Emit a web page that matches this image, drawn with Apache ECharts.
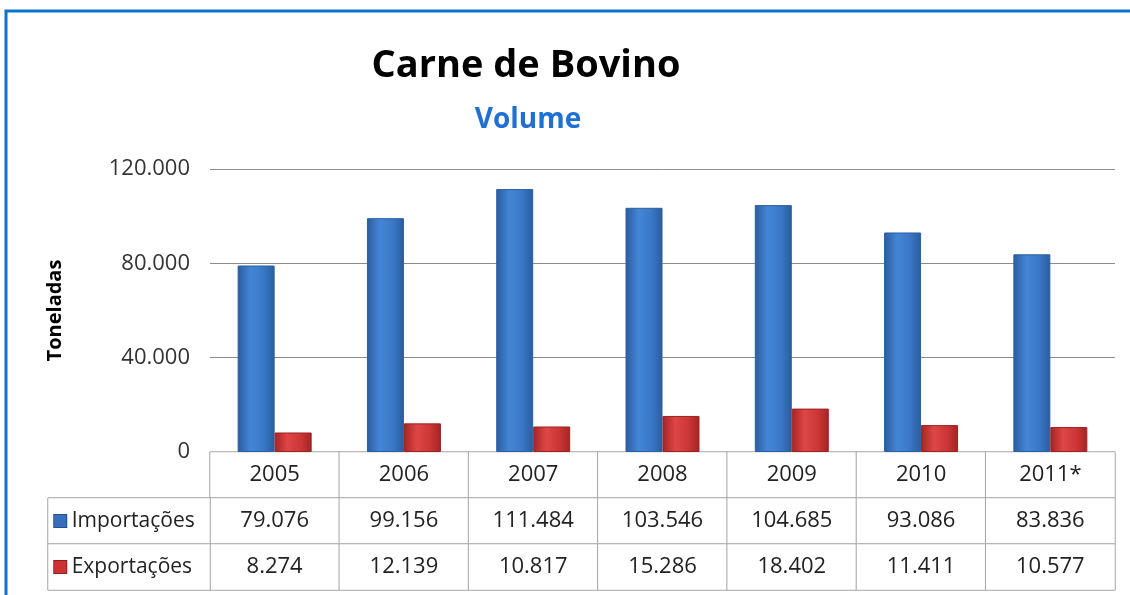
<!DOCTYPE html>
<html>
<head>
<meta charset="utf-8">
<script src="https://cdn.jsdelivr.net/npm/echarts@6/dist/echarts.min.js"></script>
<style>
  html, body { margin: 0; padding: 0; background: #fff; }
  #main { width: 1130px; height: 595px; }
</style>
</head>
<body>
<div id="main"></div>
<script>
// data
var years = ['2005', '2006', '2007', '2008', '2009', '2010', '2011*'];
var importacoes = [79076, 99156, 111484, 103546, 104685, 93086, 83836];
var exportacoes = [8274, 12139, 10817, 15286, 18402, 11411, 10577];
var seriesNames = ['Importações', 'Exportações'];
var yTicks = [0, 40000, 80000, 120000];

var FONT = 'Open Sans';

function fmt(v) {
	var s = String(Math.round(v));
	return s.replace(/\B(?=(\d{3})+(?!\d))/g, '.');
}

// cells of the data table: [col, row, value]
var tableCells = [];
years.forEach(function (y, i) {
	tableCells.push([i, 0, 0]);
	tableCells.push([i, 1, importacoes[i]]);
	tableCells.push([i, 2, exportacoes[i]]);
});

function barGrad(dark, mid, light) {
	return new echarts.graphic.LinearGradient(0, 0, 1, 0, [
		{offset: 0, color: dark},
		{offset: 0.35, color: light},
		{offset: 0.7, color: mid},
		{offset: 1, color: dark}
	]);
}

var myChart = echarts.init(document.getElementById('main'));
var option = {
	animation: false,
	title: [{
		text: 'Carne de Bovino',
		left: 521,
		top: 42,
		textAlign: 'center',
		textStyle: {fontFamily: FONT, fontSize: 38, fontWeight: 'bold', color: '#000'}
	}, {
		text: 'Volume',
		left: 523,
		top: 101,
		textAlign: 'center',
		textStyle: {fontFamily: FONT, fontSize: 28, fontWeight: 'bold', color: '#1f70d2'}
	}],
	graphic: [{
		type: 'polyline',
		shape: {points: [[6, 595], [6, 11], [1130, 11]]},
		style: {stroke: '#0a74cc', lineWidth: 3, fill: null}
	}],
	grid: [
		{left: 210, right: 15, top: 169, height: 283},
		{left: 210, right: 15, top: 452, height: 138},
		{left: 48, width: 162, top: 498, height: 92}
	],
	xAxis: [{
		gridIndex: 0,
		type: 'category',
		data: years,
		axisLine: {show: false},
		axisTick: {show: false},
		axisLabel: {show: false}
	}, {
		gridIndex: 1,
		type: 'category',
		data: years,
		axisLine: {show: false},
		axisTick: {show: false},
		axisLabel: {show: false}
	}, {
		gridIndex: 2,
		type: 'category',
		data: ['legenda'],
		axisLine: {show: false},
		axisTick: {show: false},
		axisLabel: {show: false}
	}],
	yAxis: [{
		gridIndex: 0,
		type: 'value',
		min: yTicks[0],
		max: yTicks[yTicks.length - 1],
		interval: 40000,
		name: 'Toneladas',
		nameLocation: 'middle',
		nameRotate: 90,
		nameGap: 145,
		nameTextStyle: {fontFamily: FONT, fontSize: 20, fontWeight: 'bold', color: '#000'},
		axisLine: {show: false},
		axisTick: {show: false},
		axisLabel: {
			fontFamily: FONT, fontSize: 22, color: '#333', margin: 20,
			formatter: function (v) { return fmt(v); }
		},
		splitLine: {lineStyle: {color: '#8c8c8c', width: 1}}
	}, {
		gridIndex: 1,
		type: 'category',
		inverse: true,
		data: ['Ano'].concat(seriesNames),
		axisLine: {show: false},
		axisTick: {show: false},
		axisLabel: {show: false}
	}, {
		gridIndex: 2,
		type: 'category',
		inverse: true,
		data: seriesNames,
		axisLine: {show: false},
		axisTick: {show: false},
		axisLabel: {show: false}
	}],
	series: [{
		name: seriesNames[0],
		type: 'bar',
		xAxisIndex: 0,
		yAxisIndex: 0,
		data: importacoes,
		barWidth: 37,
		barGap: '0%',
		itemStyle: {
			color: barGrad('#2a5c9e', '#3a78c6', '#4386d6'),
			borderColor: '#2c5f9f',
			borderWidth: 1
		},
		emphasis: {disabled: true}
	}, {
		name: seriesNames[1],
		type: 'bar',
		xAxisIndex: 0,
		yAxisIndex: 0,
		data: exportacoes,
		barWidth: 37,
		barGap: '0%',
		itemStyle: {
			color: barGrad('#a52424', '#cc3636', '#df4646'),
			borderColor: '#9e2222',
			borderWidth: 1
		},
		emphasis: {disabled: true}
	}, {
		type: 'heatmap',
		xAxisIndex: 1,
		yAxisIndex: 1,
		data: tableCells,
		itemStyle: {color: '#fff', borderColor: '#a6a6a6', borderWidth: 1},
		label: {
			show: true,
			fontFamily: FONT,
			fontSize: 22,
			color: '#222',
			formatter: function (p) {
				return p.data[1] === 0 ? years[p.data[0]] : fmt(p.data[2]);
			}
		},
		emphasis: {disabled: true}
	}, {
		type: 'heatmap',
		xAxisIndex: 2,
		yAxisIndex: 2,
		data: [[0, 0, 0], [0, 1, 1]],
		itemStyle: {color: '#fff', borderColor: '#a6a6a6', borderWidth: 1},
		label: {
			show: true,
			position: 'insideLeft',
			distance: 7,
			fontFamily: FONT,
			fontSize: 21,
			color: '#222',
			formatter: function (p) {
				return (p.data[1] === 0 ? '{imp|}' : '{exp|}') + ' ' + seriesNames[p.data[1]];
			},
			rich: {
				imp: {width: 12, height: 12, backgroundColor: '#3670bc', borderColor: '#24528e', borderWidth: 1},
				exp: {width: 12, height: 12, backgroundColor: '#cc3434', borderColor: '#922020', borderWidth: 1}
			}
		},
		emphasis: {disabled: true}
	}]
};
myChart.setOption(option);
</script>
</body>
</html>
